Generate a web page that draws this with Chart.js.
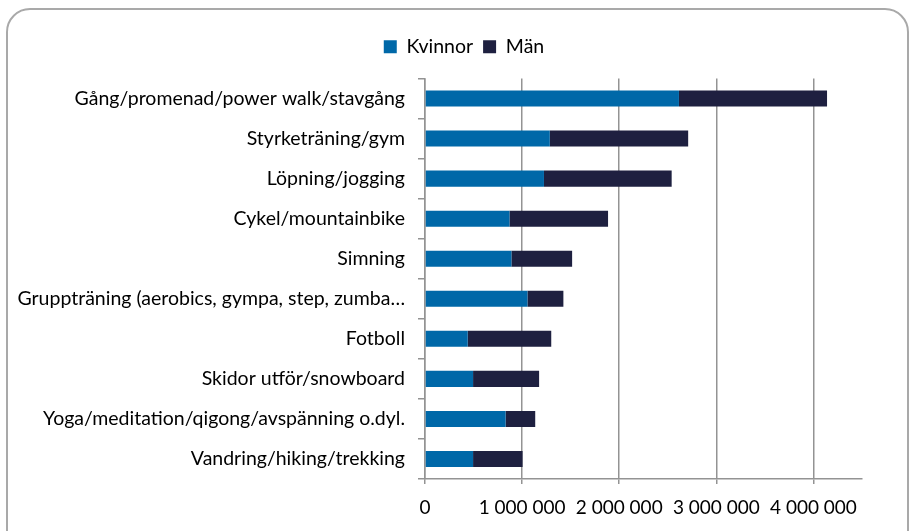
<!DOCTYPE html>
<html>
<head>
<meta charset="utf-8">
<script src="https://cdn.jsdelivr.net/npm/chart.js@4"></script>
<style>
    html, body { margin: 0; padding: 0; background: #fff; }
    #wrap { position: relative; width: 910px; height: 531px; overflow: hidden; }
    #frame {
        position: absolute; left: 6px; top: 8px; width: 899px; height: 560px;
        border: 2px solid #a9a9a9; border-radius: 24px; pointer-events: none;
    }
    canvas { position: absolute; left: 0; top: 0; }
</style>
</head>
<body>
<div id="wrap">
    <canvas id="chart" width="910" height="531"></canvas>
    <div id="frame"></div>
</div>
<script>
const categories = [
    'Gång/promenad/power walk/stavgång',
    'Styrketräning/gym',
    'Löpning/jogging',
    'Cykel/mountainbike',
    'Simning',
    'Gruppträning (aerobics, gympa, step, zumba…',
    'Fotboll',
    'Skidor utför/snowboard',
    'Yoga/meditation/qigong/avspänning o.dyl.',
    'Vandring/hiking/trekking'
];
const kvinnor = [2615000, 1285000, 1225000, 870000, 890000, 1055000, 440000, 495000, 830000, 495000];
const man = [1525000, 1425000, 1315000, 1015000, 625000, 370000, 860000, 680000, 305000, 510000];
const tickValues = [0, 1000000, 2000000, 3000000, 4000000];

const fmt = (v) => String(v).replace(/\B(?=(\d{3})+(?!\d))/g, ' ');

document.addEventListener('DOMContentLoaded', () => {
    const ctx = document.getElementById('chart').getContext('2d');
    const axisColor = '#939393';

    // push the plot a bit further down from the legend,
    // and move the legend right so it sits over the middle like the original
    const legendTweak = {
        id: 'legendTweak',
        beforeInit(chart) {
            const fit = chart.legend.fit;
            chart.legend.fit = function () {
                fit.bind(chart.legend)();
                this.height += 12;
            };
        },
        afterLayout(chart) {
            chart.legend.left += 29;
            chart.legend.right += 29;
        }
    };

    new Chart(ctx, {
        type: 'bar',
        data: {
            labels: categories,
            datasets: [
                { label: 'Kvinnor', data: kvinnor, backgroundColor: '#0068a8' },
                { label: 'Män', data: man, backgroundColor: '#1e2040' }
            ]
        },
        options: {
            indexAxis: 'y',
            responsive: false,
            animation: false,
            categoryPercentage: 0.4,
            barPercentage: 1.0,
            layout: { padding: { left: 8, right: 48, top: 27, bottom: 10 } },
            plugins: {
                legend: {
                    position: 'top',
                    labels: {
                        font: { family: 'Lato', size: 19.5 }, color: '#000',
                        boxWidth: 13, boxHeight: 13, padding: 10
                    }
                },
                tooltip: { enabled: false }
            },
            scales: {
                x: {
                    stacked: true,
                    min: 0,
                    max: 4500000,
                    afterBuildTicks: (axis) => {
                        axis.ticks = tickValues.map((v) => ({ value: v }));
                    },
                    afterFit: (axis) => { axis.height = 42; },
                    ticks: {
                        font: { family: 'Lato', size: 19 }, color: '#000', padding: 12,
                        maxRotation: 0,
                        callback: (v) => fmt(v)
                    },
                    grid: { color: axisColor, lineWidth: 1.5, tickLength: 5 },
                    border: { color: axisColor, width: 1.5 }
                },
                y: {
                    stacked: true,
                    afterFit: (axis) => { axis.width = 417; },
                    ticks: { font: { family: 'Lato', size: 19.5 }, color: '#000', padding: 13 },
                    grid: {
                        drawOnChartArea: false, color: axisColor,
                        lineWidth: 1.5, tickLength: 7
                    },
                    border: { color: axisColor, width: 1.5 }
                }
            }
        },
        plugins: [legendTweak]
    });
});
</script>
</body>
</html>
